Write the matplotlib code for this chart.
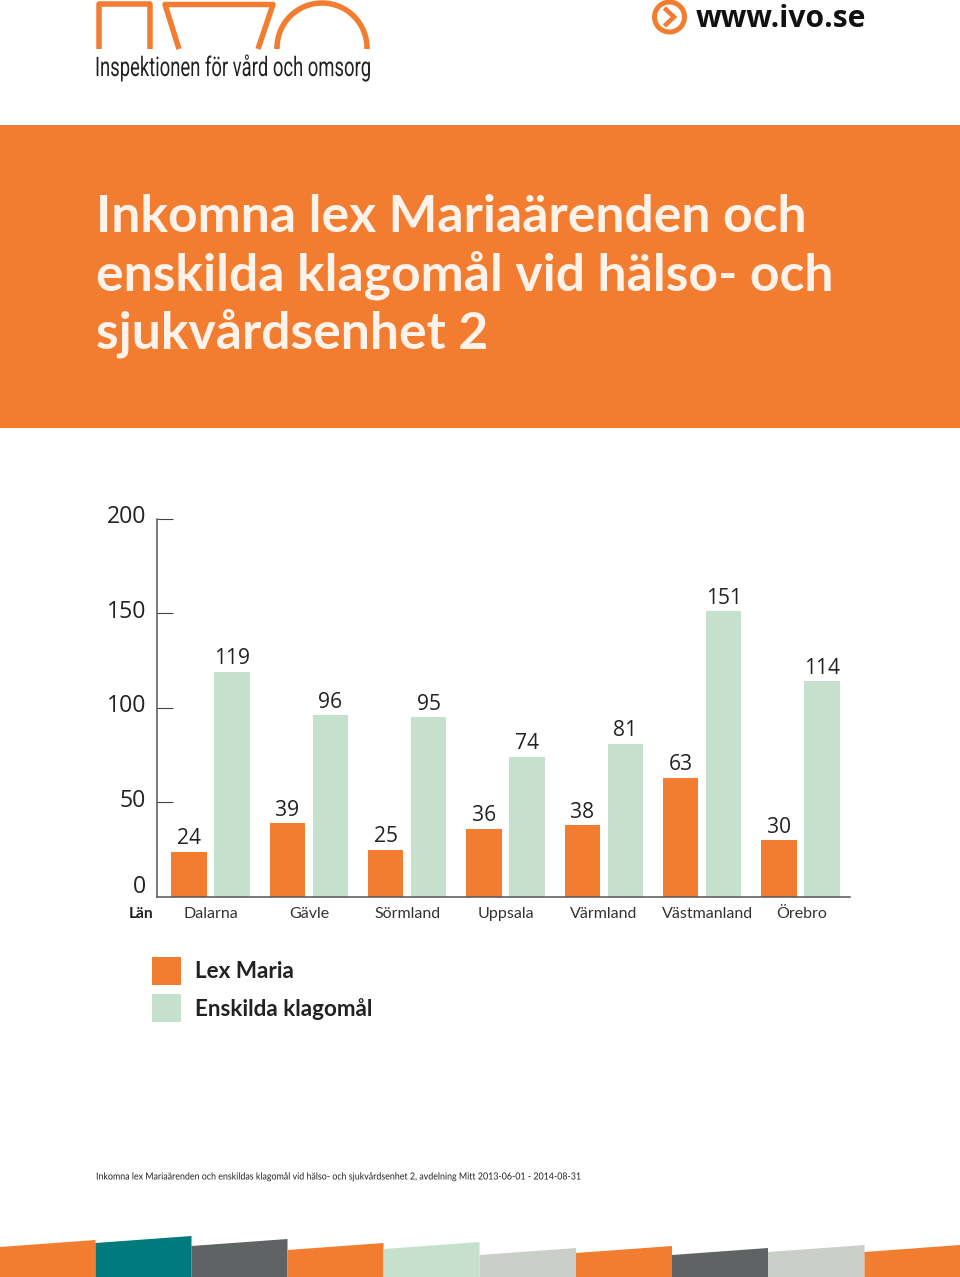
import matplotlib
matplotlib.use("Agg")
import matplotlib.pyplot as plt
import numpy as np
from matplotlib.patches import Rectangle, Polygon, Arc, Circle
from matplotlib.patheffects import AbstractPathEffect
from matplotlib.transforms import Affine2D

regions = ["Dalarna", "Gävle", "Sörmland", "Uppsala", "Värmland", "Västmanland", "Örebro"]
lex_maria = [24, 39, 25, 36, 38, 63, 30]
klagomal = [119, 96, 95, 74, 81, 151, 114]
yticks = [0, 50, 100, 150, 200]
title_lines = ["Inkomna lex Mariaärenden och", "enskilda klagomål vid hälso- och", "sjukvårdsenhet 2"]
legend_names = ["Lex Maria", "Enskilda klagomål"]
footer = "Inkomna lex Mariaärenden och enskildas klagomål vid hälso- och sjukvårdsenhet 2, avdelning Mitt 2013-06-01 - 2014-08-31"
logo_text = "Inspektionen för vård och omsorg"
site = "www.ivo.se"

ORANGE = "#F27D31"
GREEN = "#C5E1CD"
TEAL = "#007A7D"
DARK = "#5F6363"
LIGHT = "#CBCFCA"
W, H = 960, 1277
F = "Open Sans"
L = "Lato"
px = lambda p: p * 0.72


class Squeeze(AbstractPathEffect):
    """Narrow a text horizontally about a pixel anchor; the text stays a text."""
    def __init__(self, sx, x0):
        super().__init__()
        self.sx, self.x0 = sx, x0

    def draw_path(self, renderer, gc, tpath, affine, rgbFace=None):
        t = affine + Affine2D().translate(-self.x0, 0).scale(self.sx, 1).translate(self.x0, 0)
        renderer.draw_path(gc, tpath, t, rgbFace)


fig = plt.figure(figsize=(W / 100, H / 100), dpi=100)
bg = fig.add_axes([0, 0, 1, 1])
bg.set_xlim(0, W); bg.set_ylim(H, 0); bg.axis("off")

# Logo
lw = px(5.5)
bg.plot([98.5, 98.5, 150, 150], [49, 4, 4, 49], color=ORANGE, lw=lw, solid_joinstyle="round", solid_capstyle="butt")
bg.plot([179, 165, 273, 258], [49, 4.5, 4.5, 49], color=ORANGE, lw=lw, solid_joinstyle="round", solid_capstyle="butt")
bg.add_patch(Arc((322, 48), 90, 90, theta1=180, theta2=360, color=ORANGE, lw=lw))
bg.plot([277, 277], [47, 49], color=ORANGE, lw=lw, solid_capstyle="butt")
bg.plot([367, 367], [47, 49], color=ORANGE, lw=lw, solid_capstyle="butt")
bg.text(95, 76, logo_text, fontsize=px(27), family="Roboto", color="#222222", va="baseline",
        path_effects=[Squeeze(0.683, 95)])

# Site
bg.add_patch(Circle((669.5, 17), 15, fill=False, ec=ORANGE, lw=px(5)))
bg.plot([666, 674, 666], [9.5, 17, 24.5], color=ORANGE, lw=px(4.5), solid_joinstyle="miter")
bg.text(696, 27, site, fontsize=px(30), family=F, weight="bold", color="#111111", va="baseline")

# Banner
bg.add_patch(Rectangle((0, 125), W, 303, color=ORANGE, lw=0))
for line, yb in zip(title_lines, [232, 291, 349]):
    bg.text(96, yb, line, fontsize=px(51.6), family=L, weight="bold", color="#FDF3EA", va="baseline")

# Legend
for name, c, y0 in zip(legend_names, [ORANGE, GREEN], [957, 994]):
    bg.add_patch(Rectangle((152, y0), 29, 28, color=c, lw=0))
    bg.text(195, y0 + 15, name, fontsize=px(22.5), family=L, weight="bold", color="#222222", va="center")

# Footer
bg.text(96, 1177, footer, fontsize=px(9.8), family=L, color="#222222", va="center",
        path_effects=[Squeeze(0.904, 96)])

# Ribbon
edges = [0, 95.5, 191.5, 287.5, 383.5, 479.5, 576, 672, 768, 864.5, 960]
left = [1247, 1243, 1246, 1250, 1249, 1255, 1253, 1255, 1252, 1252]
colors = [ORANGE, TEAL, DARK, ORANGE, GREEN, LIGHT, ORANGE, DARK, LIGHT, ORANGE]
for i, c in enumerate(colors):
    x0, x1, yl = edges[i], edges[i + 1], left[i]
    bg.add_patch(Polygon([(x0, H), (x0, yl), (x1, yl - 7), (x1, H)], closed=True, color=c, lw=0))

# Chart
ax = fig.add_axes([156.5 / W, 1 - 897 / H, (850 - 156.5) / W, (897 - 518.5) / H])
ax.patch.set_alpha(0)
pitch = 98.33
ax.set_xlim((156.5 - 210.5) / pitch, (850 - 210.5) / pitch)
ax.set_ylim(0, 200)
x = np.arange(len(regions))
off = 21.5 / pitch
bw = 35.5 / pitch
ax.bar(x - off, lex_maria, bw, color=ORANGE, lw=0)
ax.bar(x + off, klagomal, bw, color=GREEN, lw=0)
for xs, vals in ((x - off, lex_maria), (x + off, klagomal)):
    for xi, v in zip(xs, vals):
        ax.annotate(str(v), (xi, v), xytext=(0, px(13)), textcoords="offset points",
                    ha="center", va="center", fontsize=px(21), family=F, color="#222222")
for s in ("top", "right"):
    ax.spines[s].set_visible(False)
for s in ("left", "bottom"):
    ax.spines[s].set_color("#555555")
    ax.spines[s].set_linewidth(1.1)
ax.set_yticks(yticks)
ax.set_yticklabels([])
ax.tick_params(axis="y", direction="in", length=px(16), width=0.8, color="#444444")
ax.yaxis.get_major_ticks()[0].tick1line.set_visible(False)
for v in yticks:
    ax.annotate(str(v), (0, v), xycoords=("axes fraction", "data"),
                xytext=(px(-10.5), px(10 if v == 0 else 1.5)), textcoords="offset points",
                ha="right", va="center", fontsize=px(23), family=F, color="#222222")
label_shift = [0, 0, 0, 0, 0, 0.05, 0.015]
ax.set_xticks(x + np.array(label_shift))
ax.set_xticklabels(regions, fontsize=px(16), family=L, color="#333333")
ax.tick_params(axis="x", length=0, pad=px(10))
bg.text(153, 914, "Län", fontsize=px(15.5), family=L, weight="bold", color="#222222", ha="right", va="center")

fig.savefig("out.png", dpi=100)
